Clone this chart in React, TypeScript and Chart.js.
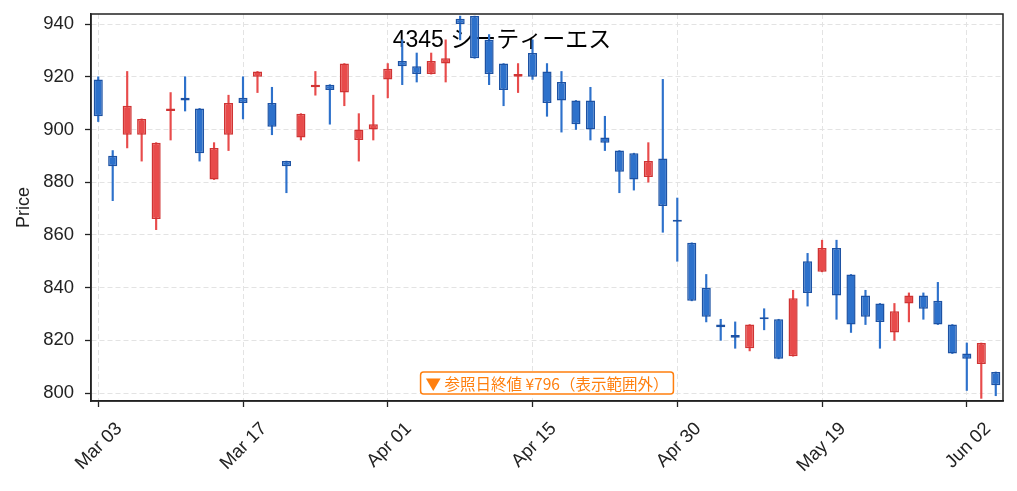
import React, { useEffect, useRef } from "react";
import { Chart, registerables } from "chart.js";

Chart.register(...registerables);

const TITLE = "4345 シーティーエス";
const Y_LABEL = "Price";
const REF_CLOSE = 796;
const NOTE = `▼ 参照日終値 ¥${REF_CLOSE}（表示範囲外）`;

const dates = [
  "Mar 03", "Mar 04", "Mar 05", "Mar 06", "Mar 07", "Mar 10", "Mar 11", "Mar 12", "Mar 13", "Mar 14",
  "Mar 17", "Mar 18", "Mar 19", "Mar 21", "Mar 24", "Mar 25", "Mar 26", "Mar 27", "Mar 28", "Mar 31",
  "Apr 01", "Apr 02", "Apr 03", "Apr 04", "Apr 07", "Apr 08", "Apr 09", "Apr 10", "Apr 11", "Apr 14",
  "Apr 15", "Apr 16", "Apr 17", "Apr 18", "Apr 21", "Apr 22", "Apr 23", "Apr 24", "Apr 25", "Apr 28",
  "Apr 30", "May 01", "May 02", "May 07", "May 08", "May 09", "May 12", "May 13", "May 14", "May 15",
  "May 19", "May 20", "May 21", "May 22", "May 23", "May 26", "May 27", "May 28", "May 29", "May 30",
  "Jun 02", "Jun 03", "Jun 04",
];

const opens = [
  919, 890, 898, 898, 866, 907, 912, 908, 881, 898,
  912, 920, 910, 888, 897, 916, 917, 914, 896, 900,
  919, 926, 924, 921, 925, 942, 943, 934, 925, 920,
  929, 922, 918, 911, 911, 897, 892, 891, 882, 889,
  865, 857, 840, 826, 822, 817, 828, 828, 814, 850,
  846, 855, 845, 837, 834, 823, 834, 837, 835, 826,
  815, 811, 808,
];
const highs = [
  920, 892, 922, 904, 895, 914, 920, 908, 895, 913,
  920, 922, 916, 888, 906, 922, 917, 925, 906, 913,
  925, 934, 929, 929, 934, 943, 943, 936, 925, 925,
  934, 925, 922, 911, 916, 905, 892, 891, 895, 919,
  874, 857, 845, 828, 827, 826, 832, 828, 839, 853,
  858, 858, 845, 839, 834, 834, 838, 838, 842, 826,
  819, 819, 808,
];
const lows = [
  903, 873, 893, 888, 862, 896, 907, 888, 881, 892,
  904, 914, 898, 876, 896, 913, 902, 909, 888, 896,
  912, 917, 918, 921, 918, 934, 927, 917, 909, 914,
  919, 905, 899, 900, 896, 892, 876, 877, 880, 861,
  850, 835, 827, 820, 817, 816, 824, 813, 814, 833,
  846, 828, 823, 826, 817, 820, 827, 828, 826, 815,
  801, 798, 799,
];
const closes = [
  905, 886, 909, 904, 895, 908, 911, 891, 893, 910,
  910, 922, 901, 886, 906, 917, 915, 925, 900, 902,
  923, 924, 921, 926, 927, 940, 927, 921, 915, 921,
  920, 910, 911, 902, 900, 895, 884, 881, 888, 871,
  865, 835, 829, 825, 821, 826, 828, 813, 836, 838,
  855, 837, 826, 829, 827, 831, 837, 832, 826, 815,
  813, 819, 803,
];

const yTicks = [800, 820, 840, 860, 880, 900, 920, 940];
const xTickIndex = [0, 10, 20, 30, 40, 50, 60];

const FONT = '"Liberation Sans", "Noto Sans CJK JP", sans-serif';
const CJK_FONT = '"Noto Sans CJK JP", "Liberation Sans", sans-serif';

const RED_FILL = "#e84b4b";
const RED_EDGE = "#cf3434";
const BLUE_FILL = "#2d71cb";
const BLUE_EDGE = "#1d52a3";
const ORANGE = "#ff7f0e";
const AXIS = "#222222";
const GRID = "#e3e3e3";

const overlay = {
  id: "overlay",
  beforeDatasetsDraw(chart: any) {
    const { ctx } = chart;
    ctx.save();
    ctx.font = `23px ${FONT}`;
    ctx.fillStyle = "#000";
    ctx.textAlign = "center";
    ctx.textBaseline = "alphabetic";
    ctx.fillText(TITLE, 502, 47);
    ctx.restore();
  },
  afterDraw(chart: any) {
    const { ctx, chartArea } = chart;
    const { left, right, top, bottom } = chartArea;
    ctx.save();
    // frame
    ctx.strokeStyle = AXIS;
    ctx.lineWidth = 1.5;
    ctx.strokeRect(left, top, right - left, bottom - top);
    // y label
    ctx.save();
    ctx.translate(24, (top + bottom) / 2);
    ctx.rotate(-Math.PI / 2);
    ctx.font = `18px ${FONT}`;
    ctx.fillStyle = AXIS;
    ctx.textAlign = "center";
    ctx.textBaseline = "middle";
    ctx.fillText(Y_LABEL, 0, 0);
    ctx.restore();
    // note box
    ctx.font = `15.5px ${CJK_FONT}`;
    const tw = ctx.measureText(NOTE).width;
    const cx = (left + right) / 2;
    const cy = bottom - 18;
    const bw = tw + 10;
    const bh = 22;
    ctx.beginPath();
    (ctx as any).roundRect(cx - bw / 2, cy - bh / 2, bw, bh, 3);
    ctx.fillStyle = "#fff";
    ctx.fill();
    ctx.strokeStyle = ORANGE;
    ctx.lineWidth = 1.5;
    ctx.stroke();
    ctx.fillStyle = ORANGE;
    ctx.textAlign = "center";
    ctx.textBaseline = "middle";
    ctx.fillText(NOTE, cx, cy + 1);
    ctx.restore();
  },
};

export default function App() {
  const ref = useRef<HTMLCanvasElement>(null);

  useEffect(() => {
    const canvas = ref.current;
    if (!canvas) return;
    const up = closes.map((c, i) => c > opens[i]);
    const bodies = opens.map((o, i) => [o, closes[i]]);
    const wicks = lows.map((l, i) => [l, highs[i]]);

    const chart = new Chart(canvas, {
      type: "bar",
      data: {
        labels: dates,
        datasets: [
          {
            data: bodies as any,
            backgroundColor: up.map((u) => (u ? RED_FILL : BLUE_FILL)),
            borderColor: up.map((u) => (u ? RED_EDGE : BLUE_EDGE)),
            borderWidth: 1.5,
            borderSkipped: false,
            barPercentage: 0.63,
            categoryPercentage: 1,
            grouped: false,
            minBarLength: 2,
            order: 0,
          } as any,
          {
            data: wicks as any,
            backgroundColor: up.map((u) => (u ? RED_FILL : BLUE_FILL)),
            borderWidth: 0,
            barThickness: 1.5,
            grouped: false,
            order: 1,
          } as any,
        ],
      },
      options: {
        animation: false,
        responsive: true,
        maintainAspectRatio: false,
        layout: { padding: { top: 14, right: 14, left: 0, bottom: 0 } },
        plugins: {
          legend: { display: false },
          tooltip: { enabled: false },
          title: { display: false },
        },
        scales: {
          x: {
            type: "category",
            offset: true,
            grid: {
              offset: false,
              color: GRID,
              lineWidth: 1,
              tickColor: AXIS,
              tickLength: 6,
              tickWidth: 1.3,
              tickBorderDash: [],
            },
            border: { display: true, color: AXIS, width: 1.5, dash: [5, 3] },
            ticks: {
              autoSkip: false,
              minRotation: 45,
              maxRotation: 45,
              color: AXIS,
              font: { size: 18.5, family: FONT },
              padding: 11,
              labelOffset: 21,
            },
            afterBuildTicks: (s: any) => {
              s.ticks = xTickIndex.map((v) => ({ value: v }));
            },
            afterFit: (s: any) => {
              s.height = 90;
              s.paddingLeft = 0;
              s.paddingRight = 0;
            },
          } as any,
          y: {
            min: 797,
            max: 943.8,
            grid: {
              color: GRID,
              lineWidth: 1,
              tickColor: AXIS,
              tickLength: 6,
              tickWidth: 1.3,
              tickBorderDash: [],
            },
            border: { display: true, color: AXIS, width: 1.5, dash: [5, 3] },
            ticks: {
              color: AXIS,
              font: { size: 18.5, family: FONT },
              padding: 11,
            },
            afterBuildTicks: (s: any) => {
              s.ticks = yTicks.map((v) => ({ value: v }));
            },
            afterFit: (s: any) => {
              s.width = 91;
              s.paddingTop = 0;
              s.paddingBottom = 0;
            },
          } as any,
        },
      },
      plugins: [overlay],
    });
    return () => chart.destroy();
  }, []);

  return (
    <div
      style={{
        position: "fixed",
        left: 0,
        top: 0,
        width: 1017,
        height: 491,
        background: "#fff",
      }}
    >
      <canvas ref={ref} />
    </div>
  );
}
